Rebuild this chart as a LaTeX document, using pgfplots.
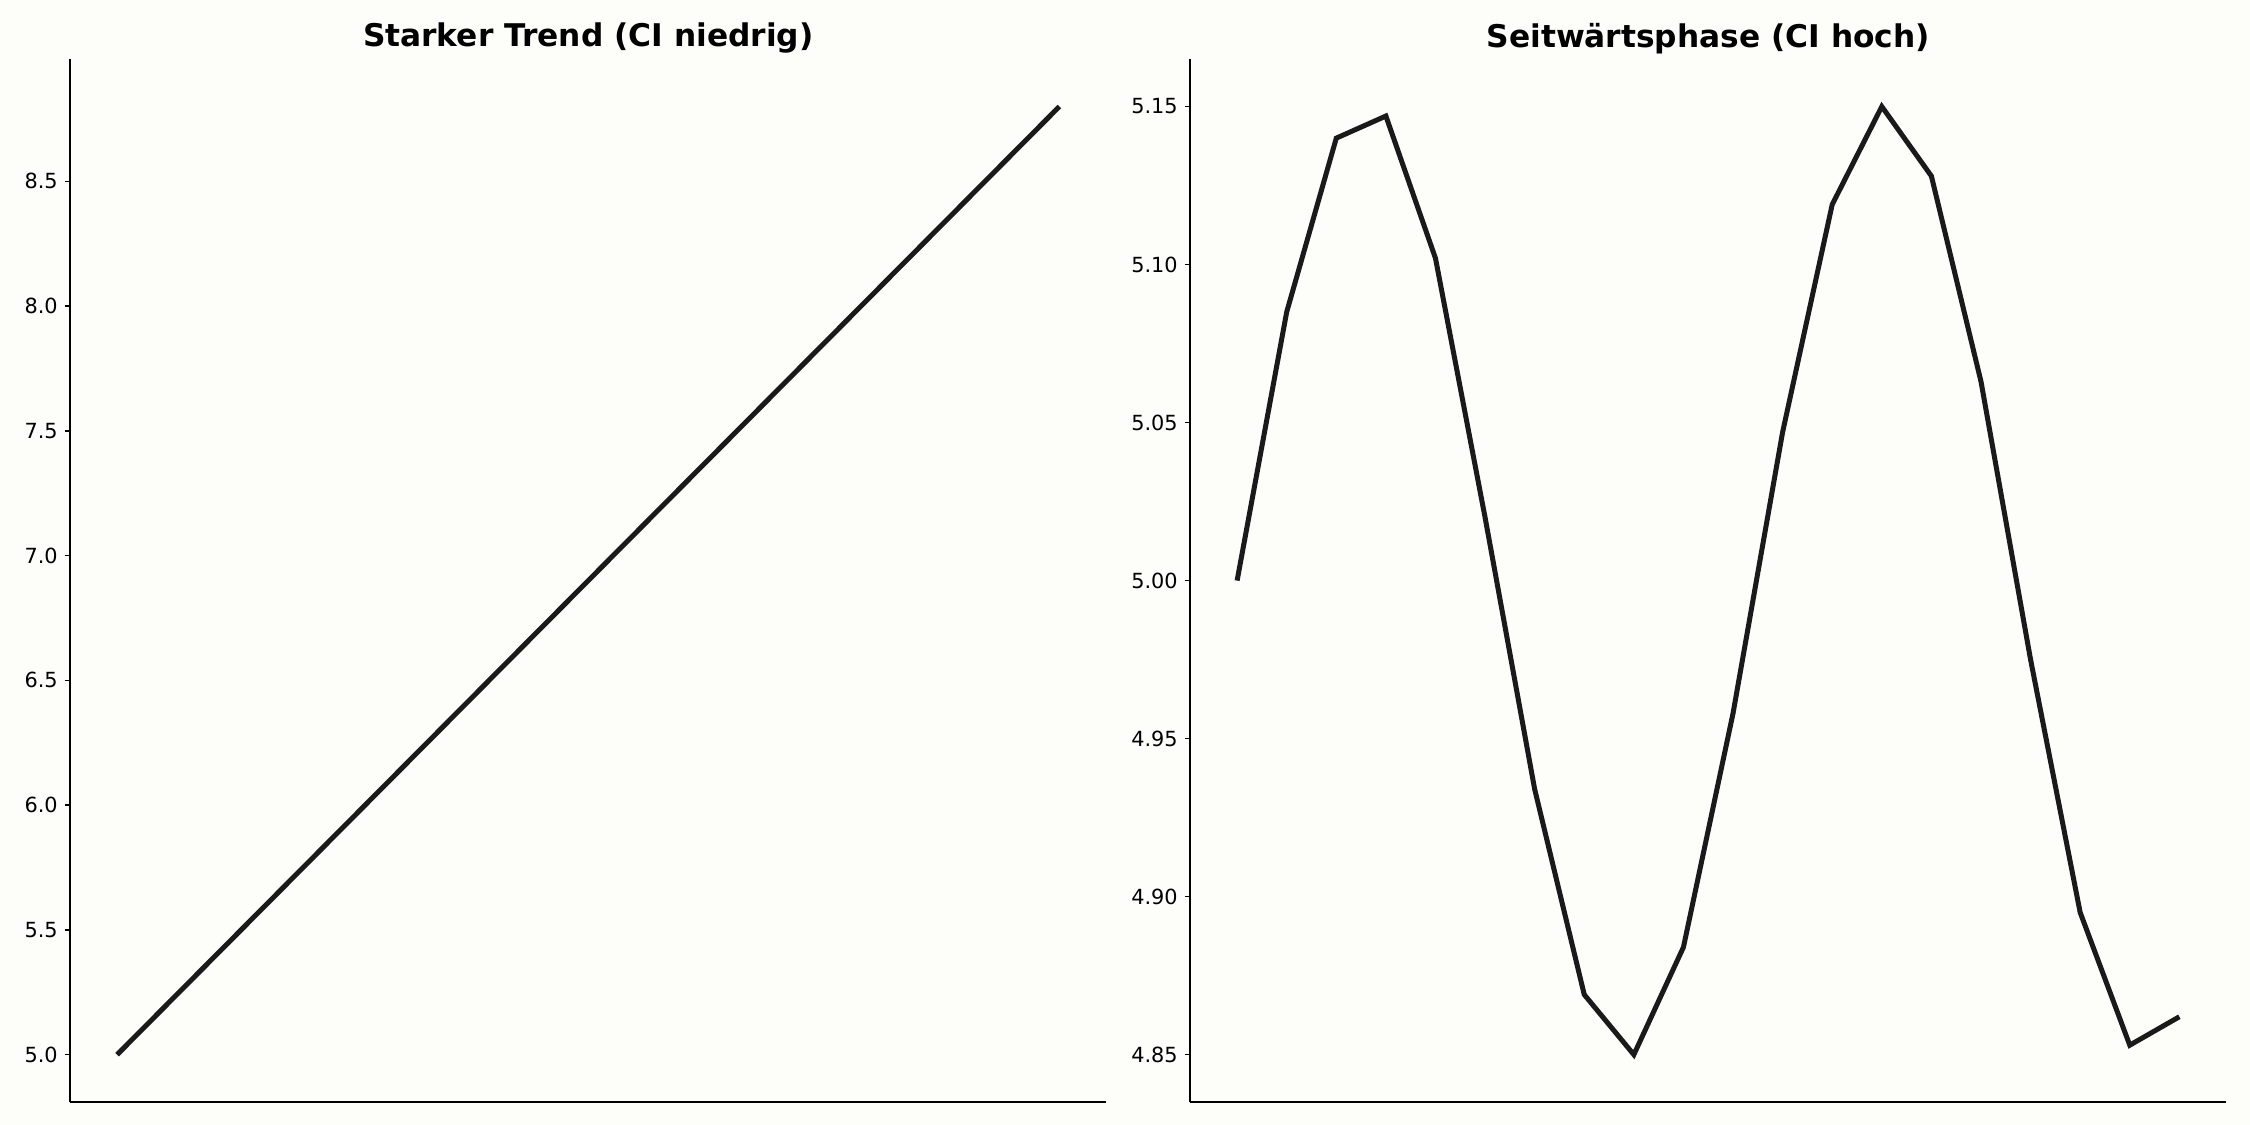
\documentclass[border=0pt]{standalone}
\usepackage{fontspec}
\setmainfont{DejaVu Sans}
\usepackage{pgfplots}
\pgfplotsset{compat=1.18}
\definecolor{bgc}{RGB}{253,253,250}
\definecolor{linec}{RGB}{26,26,26}

\pgfplotsset{panel/.style={
    scale only axis, width=497.5pt, height=500.6pt,
    anchor=south west,
    axis x line*=bottom, axis y line*=left,
    axis line style={line width=0.8pt, black},
    xtick=\empty,
    xmin=-0.95, xmax=19.95,
    tick align=outside, major tick length=2.4pt,
    tick style={line width=0.8pt, black},
    ticklabel style={font=\fontsize{10}{12}\selectfont},
    /pgf/number format/assume math mode=true,
    /pgf/number format/fixed, /pgf/number format/fixed zerofill,
    title style={font=\bfseries\fontsize{15}{18}\selectfont, at={(0.5,1)}, anchor=center, yshift=4pt},
    axis background/.style={fill=bgc},
    clip=false,
}}

\begin{document}
\begin{tikzpicture}
\fill[bgc] (0,0) rectangle (1080pt,540pt);

\begin{axis}[panel, at={(33.6pt,11pt)},
    title={Starker Trend (CI niedrig)},
    ymin=4.81, ymax=8.99,
    ytick={5.0,5.5,...,8.5},
    /pgf/number format/precision=1]
\addplot[linec, line width=2.4pt] coordinates {
 (0,5.0) (1,5.2) (2,5.4) (3,5.6) (4,5.8) (5,6.0) (6,6.2) (7,6.4) (8,6.6) (9,6.8)
 (10,7.0) (11,7.2) (12,7.4) (13,7.6) (14,7.8) (15,8.0) (16,8.2) (17,8.4) (18,8.6) (19,8.8)
};
\end{axis}

\begin{axis}[panel, at={(571.2pt,11pt)},
    title={Seitwärtsphase (CI hoch)},
    ymin=4.835, ymax=5.165,
    ytick={4.85,4.90,4.95,5.00,5.05,5.10,5.15},
    /pgf/number format/precision=2]
\addplot[linec, line width=2.4pt] coordinates {
 (0,5.000) (1,5.085) (2,5.140) (3,5.147) (4,5.102) (5,5.020) (6,4.934) (7,4.869)
 (8,4.850) (9,4.884) (10,4.958) (11,5.047) (12,5.119) (13,5.150) (14,5.128)
 (15,5.063) (16,4.975) (17,4.895) (18,4.853) (19,4.862)
};
\end{axis}

\pgfresetboundingbox
\path[use as bounding box] (0,0) rectangle (1080pt,540pt);
\end{tikzpicture}
\end{document}
